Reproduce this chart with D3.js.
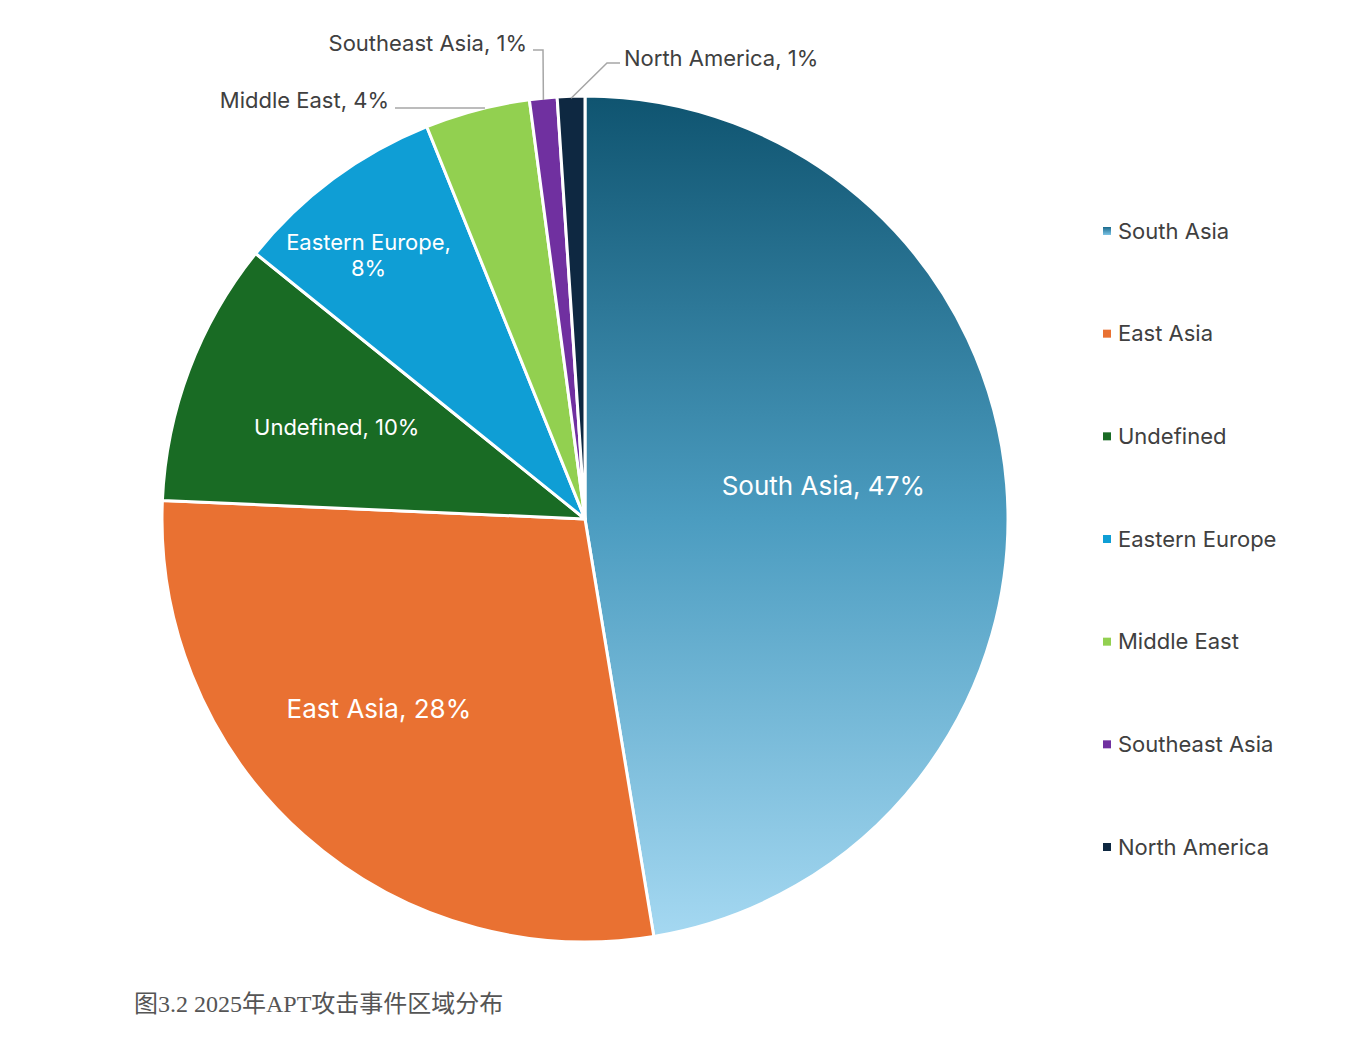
<!DOCTYPE html>
<html>
<head>
<meta charset="utf-8">
<script src="https://cdn.jsdelivr.net/npm/d3@7"></script>
<style>
  body { margin: 0; background: #fff; }
  text { font-family: Inter, "Noto Sans", sans-serif; }
</style>
</head>
<body>
<svg id="chart" width="1359" height="1046"></svg>
<script>
// Regions and their share of APT events (percent)
var regions = ['South Asia', 'East Asia', 'Undefined', 'Eastern Europe', 'Middle East', 'Southeast Asia', 'North America'];
var shares = [47.4, 28.3, 10.1, 8.1, 4.0, 1.05, 1.05];
var colors = ['url(#southAsiaGrad)', '#e97132', '#196b24', '#0f9ed5', '#92d050', '#7030a0', '#0e2841'];
var caption = '图3.2 2025年APT攻击事件区域分布';

var svg = d3.select('#chart');
var cx = 585, cy = 519, r = 423;

// gradient for the big slice (coords are in the translated pie group)
var defs = svg.append('defs');
var grad = defs.append('linearGradient')
  .attr('id', 'southAsiaGrad')
  .attr('gradientUnits', 'userSpaceOnUse')
  .attr('x1', 0).attr('y1', -r).attr('x2', 0).attr('y2', r);
grad.append('stop').attr('offset', '0%').attr('stop-color', '#0f5470');
grad.append('stop').attr('offset', '50%').attr('stop-color', '#4b9cc0');
grad.append('stop').attr('offset', '100%').attr('stop-color', '#a6d9f2');

var legGrad = defs.append('linearGradient')
  .attr('id', 'legendGrad').attr('x1', 0).attr('y1', 0).attr('x2', 0).attr('y2', 1);
legGrad.append('stop').attr('offset', '0%').attr('stop-color', '#1a6a8c');
legGrad.append('stop').attr('offset', '100%').attr('stop-color', '#7cc4e6');

var data = regions.map(function(name, i) {
  return {name: name, value: shares[i], color: colors[i]};
});
var total = d3.sum(shares);

var pie = d3.pie().sort(null).value(function(d) { return d.value; });
var arc = d3.arc().innerRadius(0).outerRadius(r);
var arcs = pie(data);

var g = svg.append('g').attr('transform', 'translate(' + cx + ',' + cy + ')');

g.selectAll('path.slice')
  .data(arcs)
  .enter()
  .append('path')
  .attr('class', 'slice')
  .attr('d', arc)
  .attr('fill', function(d) { return d.data.color; })
  .attr('stroke', '#fff')
  .attr('stroke-width', 3)
  .attr('stroke-linejoin', 'round');

function pct(d) { return Math.round(d.data.value / total * 100) + '%'; }

// labels inside big slices
var inside = arcs.filter(function(d) { return d.data.value >= 8; });
var insideStyle = {
  'South Asia': {rf: 0.57, size: 26, nx: -2, ny: -13},
  'East Asia': {rf: 0.67, size: 26, nx: -18, ny: -22},
  'Undefined': {rf: 0.63, size: 22, nx: 1, ny: 2},
  'Eastern Europe': {rf: 0.8, size: 22, nx: -15, ny: 8}
};
inside.forEach(function(d) {
  var st = insideStyle[d.data.name];
  var a = (d.startAngle + d.endAngle) / 2;
  var x = Math.sin(a) * r * st.rf + st.nx, y = -Math.cos(a) * r * st.rf + st.ny;
  var t = g.append('text')
    .attr('x', x).attr('y', y)
    .attr('text-anchor', 'middle')
    .attr('fill', '#fff')
    .attr('font-size', st.size);
  if (d.data.name === 'Eastern Europe') {
    t.append('tspan').attr('x', x).attr('dy', '-0.25em').text(d.data.name + ',');
    t.append('tspan').attr('x', x).attr('dy', '1.2em').text(pct(d));
  } else {
    t.attr('dy', '0.35em').text(d.data.name + ', ' + pct(d));
  }
});

// labels outside small slices with leader lines
var outside = arcs.filter(function(d) { return d.data.value < 8; });
var outsideLayout = {
  'Middle East': {tx: -196, ty: -419, ly: -411, anchor: 'end', elbowX: null},
  'Southeast Asia': {tx: -58, ty: -476, ly: -469, anchor: 'end', elbowX: -42},
  'North America': {tx: 39, ty: -461, ly: -456, anchor: 'start', elbowX: 22}
};
outside.forEach(function(d) {
  var lay = outsideLayout[d.data.name];
  var a = (d.startAngle + d.endAngle) / 2;
  var startX = lay.anchor === 'end' ? lay.tx + 6 : lay.tx - 4;
  var pts;
  if (lay.elbowX === null) {
    // straight line to where the rim crosses the line height
    var ex = -Math.sqrt(r * r - lay.ly * lay.ly);
    pts = [[startX, lay.ly], [ex, lay.ly]];
  } else {
    var px = Math.sin(a) * (r - 2), py = -Math.cos(a) * (r - 2);
    pts = [[startX, lay.ly], [lay.elbowX, lay.ly], [px, py]];
  }
  g.append('path')
    .attr('d', d3.line()(pts))
    .attr('fill', 'none')
    .attr('stroke', '#a6a6a6')
    .attr('stroke-width', 1.5);
  g.append('text')
    .attr('x', lay.tx).attr('y', lay.ty)
    .attr('dy', '0.35em')
    .attr('text-anchor', lay.anchor)
    .attr('fill', '#404040')
    .attr('font-size', 22)
    .text(d.data.name + ', ' + pct(d));
});

// legend
var legendY = d3.scalePoint().domain(regions).range([231, 847]);
var legend = svg.append('g');
var items = legend.selectAll('g')
  .data(data)
  .enter()
  .append('g')
  .attr('transform', function(d) { return 'translate(1103,' + legendY(d.name) + ')'; });
items.append('rect')
  .attr('x', 0).attr('y', -4)
  .attr('width', 8).attr('height', 8)
  .attr('fill', function(d, i) { return i === 0 ? 'url(#legendGrad)' : d.color; });
items.append('text')
  .attr('x', 15).attr('y', 0)
  .attr('dy', '0.35em')
  .attr('fill', '#404040')
  .attr('font-size', 22)
  .text(function(d) { return d.name; });

// caption
svg.append('text')
  .attr('x', 134).attr('y', 1012)
  .attr('fill', '#555')
  .attr('font-size', 24)
  .style('font-family', '"Liberation Serif", "Noto Sans CJK SC", serif')
  .text(caption);
</script>
</body>
</html>
